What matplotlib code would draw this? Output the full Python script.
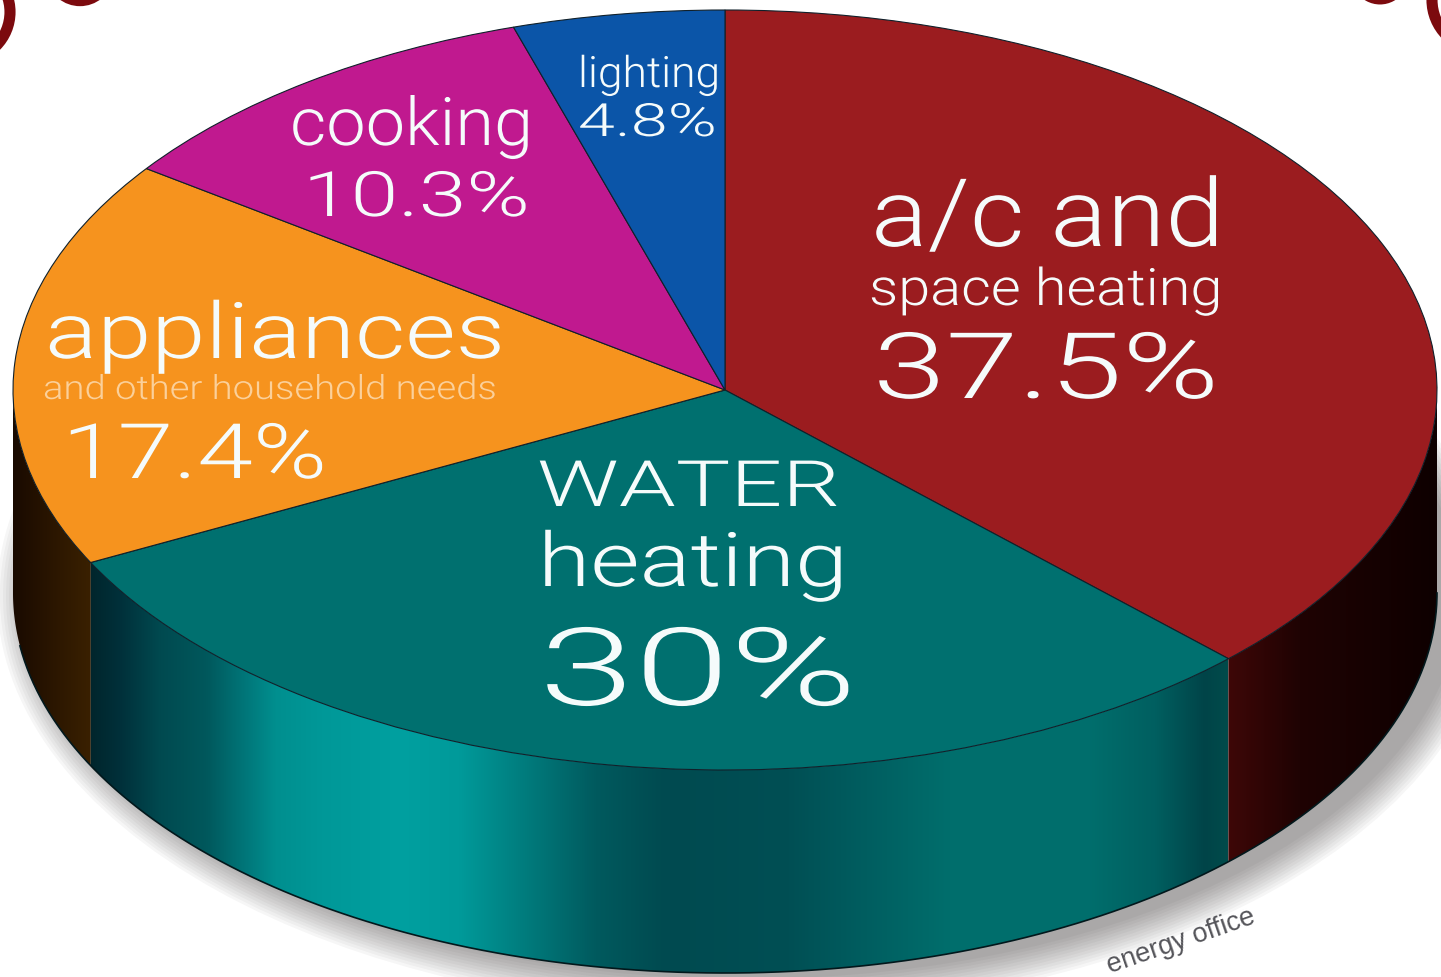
# Library
import numpy as np
import matplotlib
matplotlib.use("Agg")
import matplotlib.pyplot as plt
from matplotlib.colors import LinearSegmentedColormap
from matplotlib.patches import Ellipse, Polygon, Arc
from matplotlib.patheffects import AbstractPathEffect
from matplotlib.transforms import Affine2D

# data
categories = ["a/c and space heating", "water heating", "appliances", "cooking", "lighting"]
shares = [37.5, 30.0, 17.4, 10.3, 4.8]
top_colors = ["#9b1c1f", "#00706f", "#f6931e", "#c0198f", "#0b55a8"]

# (x pixel, colour) stops of the shaded rim
red_rim = [(1228, "#3e0707"), (1300, "#1f0303"), (1437, "#0e0000")]
teal_rim = [(88, "#00252b"), (119, "#00303a"), (160, "#004a50"), (206, "#00585c"), (243, "#007578"),
            (275, "#008f8f"), (321, "#009898"), (399, "#00a0a0"), (459, "#009a9a"), (518, "#007f80"),
            (596, "#005a5e"), (665, "#004a50"), (789, "#004f54"), (867, "#005e60"), (950, "#006e6c"),
            (1087, "#006f6d"), (1156, "#005f60"), (1206, "#004448"), (1228, "#004b4b")]
orange_rim = [(13, "#190a00"), (60, "#2e1800"), (97, "#3c2200")]
rims = [red_rim, teal_rim, orange_rim, None, None]

# text, left px, right px, baseline px, font size, colour
WHITE = "#f5fbfb"
labels = [
    ("a/c and", 871, 1224, 246, 68, WHITE),
    ("space heating", 869, 1222, 305, 37, WHITE),
    ("37.5%", 873, 1219, 398, 66, WHITE),
    ("WATER", 537, 840, 506, 46, WHITE),
    ("heating", 538, 848, 586, 54, WHITE),
    ("30%", 539, 857, 705, 78, WHITE),
    ("appliances", 45, 505, 358, 56, WHITE),
    ("and other household needs", 43, 497, 399, 24, "#fbd09a"),
    ("17.4%", 62, 327, 478, 55, WHITE),
    ("cooking", 290, 533, 145, 48, WHITE),
    ("10.3%", 303, 530, 216, 45, WHITE),
    ("lighting", 578, 720, 87, 31, WHITE),
    ("4.8%", 578, 717, 136, 33, WHITE),
]

# ellipse of the top face, in pixels
CX, CY, RX, RY = 725, 390, 712, 380
DEPTH = 203 / RY


def to_x(px):
    return (px - CX) / RX


def to_y(py):
    return (CY - py) / RY


class StretchX(AbstractPathEffect):
    # the reference font is much wider than anything installed
    def __init__(self, sx):
        super().__init__()
        self.sx = sx

    def draw_path(self, renderer, gc, tpath, affine, rgbFace=None):
        renderer.draw_path(gc, tpath, Affine2D().scale(self.sx, 1) + affine, rgbFace)


plt.rcParams["font.family"] = ["Roboto", "Lato", "DejaVu Sans"]
fig = plt.figure(figsize=(14.41, 9.77), dpi=100, facecolor="white")
ax = fig.add_axes([0, 0, 1, 1])

wedges, _ = ax.pie(shares, colors=top_colors, startangle=90, counterclock=False, radius=1,
                   wedgeprops=dict(edgecolor="#10202a", linewidth=0.8, zorder=5))

# soft shadow under the disc, falls to the lower right
for r in np.arange(36, 0, -3):
    ax.add_patch(Ellipse((to_x(CX + 20), to_y(CY + 203 + 3)), 2 * (RX + r) / RX, 2 * (RY + r) / RY,
                         facecolor="#1a1414", edgecolor="none", alpha=0.036, zorder=1))

# shaded rim, only the front half of the circle shows
for wedge, rim in zip(wedges, rims):
    if rim is None:
        continue
    t1, t2 = wedge.theta1 % 360, wedge.theta2 % 360
    if t2 <= t1:
        t2 += 360
    t1, t2 = max(t1, 180), min(t2, 360)
    t = np.radians(np.linspace(t1, t2, 200))
    rx, ry = np.cos(t), np.sin(t)
    pts = np.column_stack([np.r_[rx, rx[::-1]], np.r_[ry, ry[::-1] - DEPTH]])
    clip = Polygon(pts, closed=True, transform=ax.transData, facecolor="none", edgecolor="none")
    ax.add_patch(clip)
    x0, x1 = rim[0][0], rim[-1][0]
    cmap = LinearSegmentedColormap.from_list("rim", [((p - x0) / (x1 - x0), c) for p, c in rim], N=512)
    im = ax.imshow(np.linspace(0, 1, 512)[None, :], cmap=cmap, aspect="auto", zorder=3,
                   extent=(to_x(x0), to_x(x1), -2, 1))
    im.set_clip_path(clip)

# dark lower edge of the rim
t = np.radians(np.linspace(188, 360, 300))
ax.plot(np.cos(t), np.sin(t) - DEPTH, color="#02181c", lw=1.2, zorder=4)

# rings of the page behind, cut by the picture edge
ring = "#7c0a0e"
ax.add_patch(Ellipse((to_x(-38), to_y(12)), 2 * 48 / RX, 2 * 48 / RY, fill=False, edgecolor=ring, lw=8, zorder=2))
ax.add_patch(Ellipse((to_x(1482), to_y(0)), 2 * 50 / RX, 2 * 50 / RY, fill=False, edgecolor=ring, lw=8, zorder=2))
ax.add_patch(Arc((to_x(80), to_y(-28)), 2 * 30 / RX, 2 * 30 / RY, theta1=200, theta2=340, edgecolor=ring, lw=6, zorder=2))
ax.add_patch(Arc((to_x(1380), to_y(-24)), 2 * 25 / RX, 2 * 25 / RY, theta1=230, theta2=310, edgecolor=ring, lw=5, zorder=2))

ax.set_aspect("auto")
ax.set_xlim(to_x(0), to_x(1441))
ax.set_ylim(to_y(977), to_y(0))
ax.axis("off")

# labels, each stretched to the width it has in the picture
renderer = fig.canvas.get_renderer()
for text, left, right, base, size, color in labels:
    t = ax.text(to_x(left), to_y(base), text, fontsize=size, color=color, weight=300,
                ha="left", va="baseline", zorder=8)
    w = t.get_window_extent(renderer).width
    t.set_path_effects([StretchX((right - left) / w)])

ax.text(to_x(1181), to_y(941), "energy office", fontsize=19.5, color="#55555a", family="Liberation Sans",
        rotation=19, ha="center", va="center", zorder=2)

fig.savefig("out.png", dpi=100)
